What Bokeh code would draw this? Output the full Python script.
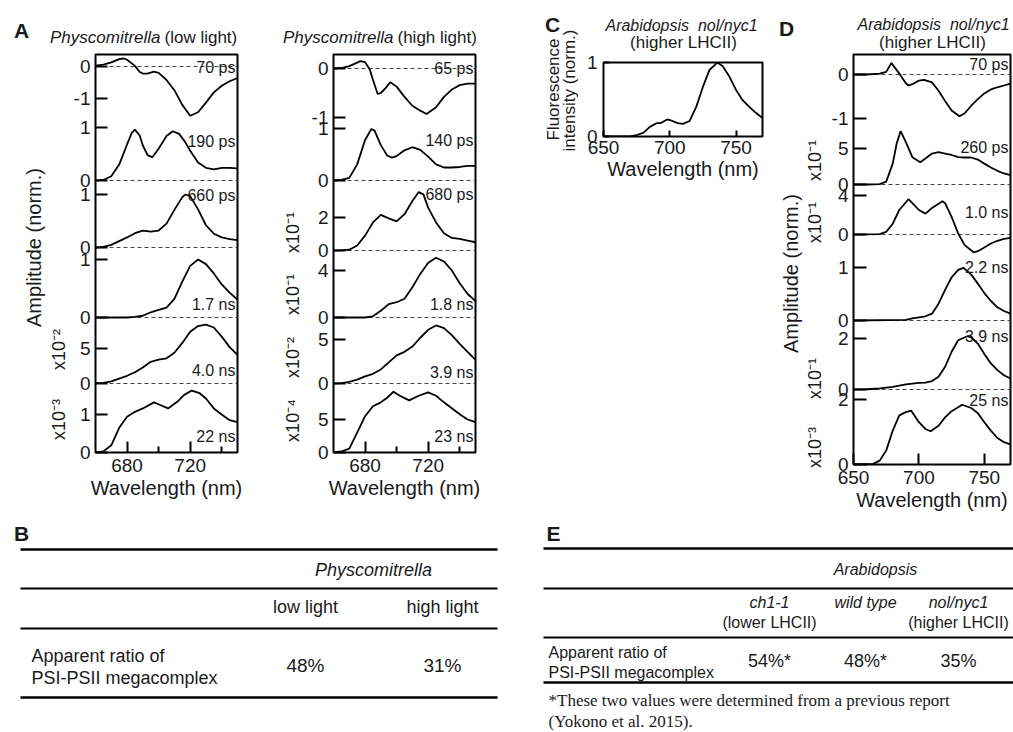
import math
from bokeh.plotting import figure
from bokeh.models import Range1d, LinearAxis, FixedTicker, Label, AllLabels
from bokeh.layouts import row, column
from bokeh.embed import file_html
from bokeh.resources import INLINE
from bokeh.core.properties import value

# ---------------------------------------------------------------- data
# Panel A - Physcomitrella (low light): decay-associated spectra
ll_70ps_wl = [660, 665, 670, 675, 678, 680, 685, 688, 690, 693, 697, 700, 705, 710, 715, 720, 725, 730, 735, 740, 745, 750]
ll_70ps = [0.03, 0.06, 0.13, 0.23, 0.25, 0.21, 0.02, -0.17, -0.22, -0.22, -0.16, -0.2, -0.42, -0.74, -1.2, -1.54, -1.43, -1.13, -0.81, -0.6, -0.46, -0.36]
ll_190ps_wl = [660, 665, 670, 675, 680, 683, 685, 688, 690, 693, 696, 700, 705, 709, 713, 717, 720, 725, 730, 735, 740, 745, 750]
ll_190ps = [0.0, 0.01, 0.08, 0.3, 0.68, 0.9, 0.96, 0.85, 0.66, 0.48, 0.44, 0.6, 0.84, 0.93, 0.88, 0.72, 0.56, 0.34, 0.24, 0.21, 0.24, 0.24, 0.23]
ll_660ps_wl = [660, 665, 670, 675, 680, 685, 690, 695, 700, 705, 710, 715, 717, 720, 725, 730, 735, 740, 745, 750]
ll_660ps = [0.0, 0.01, 0.05, 0.12, 0.19, 0.27, 0.32, 0.3, 0.32, 0.45, 0.71, 0.95, 1.0, 0.97, 0.72, 0.42, 0.26, 0.19, 0.16, 0.14]
ll_1p7ns_wl = [660, 670, 680, 685, 690, 695, 700, 705, 710, 715, 720, 725, 730, 735, 740, 745, 750]
ll_1p7ns = [0.0, 0.0, 0.0, 0.01, 0.03, 0.09, 0.13, 0.17, 0.32, 0.62, 0.89, 1.0, 0.92, 0.76, 0.57, 0.43, 0.31]
ll_4p0ns_wl = [660, 665, 670, 675, 680, 685, 690, 695, 700, 705, 710, 715, 720, 725, 730, 735, 740, 745, 750]
ll_4p0ns = [0.05, 0.1, 0.3, 0.7, 1.1, 1.6, 2.3, 3.1, 3.4, 3.6, 4.4, 5.8, 7.4, 8.2, 8.4, 8.0, 6.7, 5.2, 4.1]
ll_22ns_wl = [660, 665, 670, 675, 680, 685, 690, 697, 701, 706, 712, 716, 721, 726, 730, 735, 740, 745, 750]
ll_22ns = [0.0, 0.03, 0.19, 0.65, 0.94, 1.07, 1.16, 1.32, 1.25, 1.16, 1.34, 1.51, 1.63, 1.56, 1.42, 1.16, 1.0, 0.85, 0.8]

# Panel A - Physcomitrella (high light)
hl_65ps_wl = [660, 665, 670, 675, 677, 680, 683, 685, 688, 690, 693, 696, 700, 705, 710, 715, 719, 725, 730, 735, 740, 745, 750]
hl_65ps = [0.0, 0.01, 0.05, 0.12, 0.15, 0.13, -0.02, -0.23, -0.52, -0.5, -0.4, -0.28, -0.37, -0.58, -0.76, -0.86, -0.93, -0.79, -0.58, -0.43, -0.34, -0.31, -0.31]
hl_140ps_wl = [660, 665, 670, 675, 680, 684, 686, 690, 694, 697, 700, 705, 710, 715, 720, 725, 730, 735, 740, 745, 750]
hl_140ps = [0.0, 0.01, 0.05, 0.31, 0.78, 0.99, 0.96, 0.68, 0.48, 0.44, 0.47, 0.58, 0.64, 0.59, 0.46, 0.31, 0.25, 0.25, 0.26, 0.28, 0.28]
hl_680ps_wl = [660, 665, 670, 675, 680, 685, 690, 695, 700, 705, 710, 714, 717, 720, 725, 730, 735, 740, 745, 750]
hl_680ps = [0.0, 0.01, 0.05, 0.3, 0.9, 1.7, 2.16, 1.95, 1.76, 2.2, 3.0, 3.54, 3.4, 2.6, 1.7, 1.04, 0.76, 0.7, 0.6, 0.5]
hl_1p8ns_wl = [660, 680, 685, 690, 695, 700, 705, 710, 715, 720, 725, 730, 735, 740, 745, 750]
hl_1p8ns = [0.0, 0.0, 0.1, 0.57, 1.14, 1.3, 1.6, 2.57, 3.71, 4.66, 5.09, 4.77, 4.0, 2.91, 2.0, 1.4]
hl_3p9ns_wl = [660, 665, 670, 675, 680, 685, 690, 695, 700, 705, 710, 715, 720, 725, 730, 735, 740, 745, 750]
hl_3p9ns = [0.0, 0.04, 0.18, 0.45, 0.8, 1.1, 1.6, 2.4, 3.2, 3.6, 4.2, 5.2, 6.1, 6.6, 6.3, 5.5, 4.5, 3.6, 2.7]
hl_23ns_wl = [660, 665, 670, 675, 680, 685, 690, 694, 698, 702, 708, 714, 720, 725, 730, 735, 740, 745, 750]
hl_23ns = [0.0, 0.15, 0.6, 3.0, 5.5, 7.0, 7.6, 8.3, 9.2, 8.6, 7.9, 8.6, 9.1, 8.6, 7.6, 6.7, 5.8, 5.0, 4.6]

# Panel C - Arabidopsis nol/nyc1 steady-state fluorescence
c_wl = [650, 670, 675, 680, 685, 690, 693, 698, 702, 706, 710, 715, 720, 725, 730, 736, 740, 745, 750, 755, 760, 765, 770]
c_int = [0.0, 0.0, 0.02, 0.05, 0.13, 0.18, 0.18, 0.23, 0.21, 0.18, 0.17, 0.21, 0.4, 0.67, 0.9, 1.0, 0.95, 0.81, 0.63, 0.49, 0.4, 0.32, 0.25]

# Panel D - Arabidopsis nol/nyc1 decay-associated spectra
d_70ps_wl = [650, 660, 670, 675, 679, 685, 690, 692, 695, 700, 704, 710, 715, 720, 725, 731, 735, 740, 745, 750, 755, 760, 765, 770]
d_70ps = [0.0, 0.0, 0.02, 0.06, 0.26, 0.02, -0.2, -0.25, -0.22, -0.14, -0.12, -0.18, -0.37, -0.6, -0.82, -0.95, -0.88, -0.71, -0.56, -0.43, -0.34, -0.29, -0.25, -0.21]
d_260ps_wl = [650, 660, 670, 675, 680, 683, 686, 690, 695, 701, 705, 710, 715, 720, 725, 730, 735, 740, 745, 750, 755, 760, 765, 770]
d_260ps = [0.0, 0.0, 0.05, 0.4, 2.9, 5.7, 7.4, 5.9, 3.8, 3.1, 3.6, 4.3, 4.5, 4.3, 4.1, 3.8, 3.75, 3.75, 3.47, 2.9, 2.36, 1.9, 1.53, 1.3]
d_1p0ns_wl = [650, 670, 675, 680, 685, 692, 695, 700, 705, 710, 718, 720, 725, 730, 735, 742, 745, 750, 755, 760, 765, 770]
d_1p0ns = [0.0, 0.03, 0.27, 1.1, 2.5, 3.6, 3.2, 2.5, 2.13, 2.7, 3.4, 3.2, 1.8, 0.1, -1.08, -1.83, -1.7, -1.32, -0.92, -0.64, -0.44, -0.34]
d_2p2ns_wl = [650, 690, 695, 700, 705, 710, 715, 720, 725, 730, 734, 740, 745, 750, 755, 760, 765, 770]
d_2p2ns = [0.0, 0.01, 0.04, 0.06, 0.08, 0.13, 0.32, 0.58, 0.82, 0.96, 1.0, 0.87, 0.7, 0.52, 0.37, 0.25, 0.18, 0.13]
d_3p9ns_wl = [650, 660, 670, 680, 690, 700, 705, 710, 715, 720, 725, 730, 737, 740, 745, 750, 755, 760, 765, 770]
d_3p9ns = [0.0, 0.01, 0.04, 0.1, 0.2, 0.26, 0.27, 0.33, 0.5, 0.89, 1.48, 1.93, 2.09, 2.04, 1.8, 1.39, 1.02, 0.76, 0.56, 0.43]
d_25ns_wl = [650, 665, 670, 675, 680, 685, 690, 694, 700, 705, 709, 715, 720, 725, 730, 733, 740, 745, 750, 755, 760, 765, 770]
d_25ns = [0.0, 0.02, 0.12, 0.43, 1.05, 1.52, 1.62, 1.67, 1.31, 1.1, 1.03, 1.2, 1.46, 1.65, 1.77, 1.85, 1.75, 1.59, 1.31, 1.05, 0.82, 0.69, 0.62]

# Tables B and E
row_label = ["Apparent ratio of", "PSI-PSII megacomplex"]
b_species = "Physcomitrella"
b_conditions = ["low light", "high light"]
b_ratio = ["48%", "31%"]
e_species = "Arabidopsis"
e_lines = ["ch1-1", "wild type", "nol/nyc1"]
e_lhcii = ["(lower LHCII)", "", "(higher LHCII)"]
e_ratio = ["54%*", "48%*", "35%"]
e_note = ["*These two values were determined from a previous report", "(Yokono et al. 2015)."]

# ---------------------------------------------------------------- style
SANS = "Liberation Sans"
SERIF = "Liberation Serif"
INK = "#1a1a1a"
SUP = {1: "\u00b9", 2: "\u00b2", 3: "\u00b3", 4: "\u2074"}
ARA_TITLE = "Arabidopsis\u00a0\u00a0nol/nyc1"


def base_fig(fig_l, fig_t, fig_w, fig_h, fr_l, fr_t, fr_r, fr_b):
    """Figure whose default ranges are page pixels of its frame."""
    p = figure(width=fig_w, height=fig_h, title=None, toolbar_location=None,
               output_backend="svg",
               x_range=Range1d(fr_l, fr_r), y_range=Range1d(fr_b, fr_t),
               x_axis_type=None, y_axis_type=None,
               min_border_left=fr_l - fig_l, min_border_right=fig_l + fig_w - fr_r,
               min_border_top=fr_t - fig_t, min_border_bottom=fig_t + fig_h - fr_b)
    p.outline_line_color = None
    p.background_fill_color = "white"
    p.border_fill_color = "white"
    return p


def text_fig(l, t, w, h):
    return base_fig(l, t, w, h, l, t, l + w, t + h)


def label(p, x, y, text, size="19px", style="normal", align="center",
          baseline="middle", angle=0.0, font=SANS):
    p.add_layout(Label(x=x, y=y, text=text, text_font=font, text_font_size=size,
                       text_font_style=style, text_align=align,
                       text_baseline=baseline, angle=angle, text_color=INK))


def box(p):
    return column(p)


def stack_fig(geom, nm_range, xticks, xminor, panels, ytick_len, time_x, side, mult_x):
    fig_l, fig_t, fig_w, fig_h, fr_l, fr_t, fr_r, fr_b = geom
    p = base_fig(*geom)
    p.outline_line_color = "black"
    p.outline_line_width = 2
    p.extra_x_ranges = {"nm": Range1d(*nm_range)}
    yr = {}
    ticks, over = [], {}
    for i, sp in enumerate(panels):
        z, s = sp["zero"], sp["scale"]
        yr["s%d" % i] = Range1d((z - fr_b) / s, (z - fr_t) / s)
        for t in sp["ticks"]:
            pos = int(round(z - t * s))
            ticks.append(pos)
            over[pos] = str(t)
    p.extra_y_ranges = yr
    for i, sp in enumerate(panels):
        name = "s%d" % i
        if sp.get("dash", True):
            p.hspan(y=[0], y_range_name=name, line_color="#444444",
                    line_width=1, line_dash="4 3")
        p.line(sp["x"], sp["y"], x_range_name="nm", y_range_name=name,
               line_color="black", line_width=1.8)
        label(p, time_x, sp["label_y"], sp["label"], size="16px", align="right")
        if sp.get("exp"):
            label(side, mult_x, sp["mult_y"], "x10\u207b" + SUP[sp["exp"]],
                  size="18px", angle=math.pi / 2)
    ax = LinearAxis(ticker=FixedTicker(ticks=ticks, minor_ticks=[]),
                    major_label_overrides=over, major_label_policy=AllLabels(),
                    axis_line_color=None, major_tick_in=ytick_len, major_tick_out=0,
                    major_tick_line_width=2, minor_tick_line_color=None,
                    major_label_text_font=SANS, major_label_text_font_size="19px",
                    major_label_standoff=5, major_label_text_color=INK)
    p.add_layout(ax, "left")
    bx = LinearAxis(x_range_name="nm",
                    ticker=FixedTicker(ticks=xticks, minor_ticks=xminor),
                    axis_line_color=None, major_tick_in=11, major_tick_out=0,
                    minor_tick_in=6, minor_tick_out=0, major_tick_line_width=2,
                    minor_tick_line_width=2, major_label_text_font=SANS,
                    major_label_text_font_size="19px", major_label_standoff=6,
                    major_label_text_color=INK, axis_label="Wavelength (nm)",
                    axis_label_text_font=SANS, axis_label_text_font_size="20px",
                    axis_label_text_font_style="normal", axis_label_standoff=2,
                    axis_label_text_color=INK)
    p.add_layout(bx, "below")
    return p


# ---------------------------------------------------------------- panel A (low light)
a1_panels = [
    dict(x=ll_70ps_wl, y=ll_70ps, zero=66, scale=32, ticks=[0, -1], label="70 ps", label_y=67),
    dict(x=ll_190ps_wl, y=ll_190ps, zero=180, scale=53, ticks=[0, 1], label="190 ps", label_y=141),
    dict(x=ll_660ps_wl, y=ll_660ps, zero=247, scale=53, ticks=[0, 1], label="660 ps", label_y=195),
    dict(x=ll_1p7ns_wl, y=ll_1p7ns, zero=317, scale=58, ticks=[0, 1], label="1.7 ns", label_y=304),
    dict(x=ll_4p0ns_wl, y=ll_4p0ns, zero=383, scale=7, ticks=[0, 5], label="4.0 ns", label_y=370,
         exp=2, mult_y=349),
    dict(x=ll_22ns_wl, y=ll_22ns, zero=452, scale=38, ticks=[0, 1], label="22 ns", label_y=436,
         exp=3, mult_y=419, dash=False),
]
tA1 = text_fig(0, 0, 250, 52)
label(tA1, 21, 30, "A", size="21px", style="bold")
label(tA1, 160, 37, "Physcomitrella", size="17px", style="italic", align="right")
label(tA1, 164, 37, "(low light)", size="17px", align="left")
sA1 = text_fig(0, 52, 70, 468)
label(sA1, 33, 247, "Amplitude (norm.)", size="20px", angle=math.pi / 2)
pA1 = stack_fig((70, 52, 180, 468, 94, 54, 237, 452), (660, 750), [680, 720], [700, 740],
                a1_panels, 12, 235, sA1, 58)
colA1 = column(box(tA1), row(box(sA1), box(pA1)))

# ---------------------------------------------------------------- panel A (high light)
a2_panels = [
    dict(x=hl_65ps_wl, y=hl_65ps, zero=68, scale=49, ticks=[0, -1], label="65 ps", label_y=68),
    dict(x=hl_140ps_wl, y=hl_140ps, zero=180, scale=52, ticks=[0, 1], label="140 ps", label_y=140),
    dict(x=hl_680ps_wl, y=hl_680ps, zero=250, scale=16.5, ticks=[0, 2], label="680 ps", label_y=194,
         exp=1, mult_y=232),
    dict(x=hl_1p8ns_wl, y=hl_1p8ns, zero=317, scale=11.75, ticks=[0, 4], label="1.8 ns", label_y=304,
         exp=1, mult_y=294),
    dict(x=hl_3p9ns_wl, y=hl_3p9ns, zero=383, scale=8.8, ticks=[0, 5], label="3.9 ns", label_y=372,
         exp=2, mult_y=357),
    dict(x=hl_23ns_wl, y=hl_23ns, zero=452, scale=6.6, ticks=[0, 5], label="23 ns", label_y=436,
         exp=4, mult_y=420, dash=False),
]
tA2 = text_fig(250, 0, 240, 52)
label(tA2, 393, 37, "Physcomitrella", size="17px", style="italic", align="right")
label(tA2, 397, 37, "(high light)", size="17px", align="left")
sA2 = text_fig(250, 52, 55, 468)
pA2 = stack_fig((305, 52, 185, 468, 333, 54, 475, 452), (660, 750), [680, 720], [700, 740],
                a2_panels, 12, 473, sA2, 292)
colA2 = column(box(tA2), row(box(sA2), box(pA2)))

# ---------------------------------------------------------------- panel C
sC = text_fig(490, 0, 88, 520)
label(sC, 552, 24, "C", size="21px", style="bold")
label(sC, 553, 89, "Fluorescence", size="17px", angle=math.pi / 2)
label(sC, 569, 90, "intensity (norm.)", size="17px", angle=math.pi / 2)
tC = text_fig(578, 0, 197, 52)
label(tC, 681, 25, ARA_TITLE, size="16px", style="italic")
label(tC, 683, 42, "(higher LHCII)", size="17px")
pC = base_fig(578, 52, 197, 468, 603, 62, 762, 136)
pC.outline_line_color = "black"
pC.outline_line_width = 2
pC.extra_x_ranges = {"nm": Range1d(650, 770)}
pC.extra_y_ranges = {"int": Range1d(0, 1.0)}
pC.line(c_wl, c_int, x_range_name="nm", y_range_name="int", line_color="black", line_width=1.8)
pC.add_layout(LinearAxis(y_range_name="int", ticker=FixedTicker(ticks=[0, 1], minor_ticks=[]),
                         axis_line_color=None, major_tick_in=6, major_tick_out=0,
                         major_tick_line_width=2, minor_tick_line_color=None,
                         major_label_text_font=SANS, major_label_text_font_size="19px",
                         major_label_standoff=6, major_label_text_color=INK), "left")
pC.add_layout(LinearAxis(x_range_name="nm", ticker=FixedTicker(ticks=[650, 700, 750], minor_ticks=[]),
                         axis_line_color=None, major_tick_in=6, major_tick_out=0,
                         major_tick_line_width=2, minor_tick_line_color=None,
                         major_label_text_font=SANS, major_label_text_font_size="19px",
                         major_label_standoff=4, major_label_text_color=INK,
                         axis_label="Wavelength (nm)", axis_label_text_font=SANS,
                         axis_label_text_font_size="20px", axis_label_text_font_style="normal",
                         axis_label_standoff=1, axis_label_text_color=INK), "below")
colC = row(box(sC), column(box(tC), box(pC)))

# ---------------------------------------------------------------- panel D
d_panels = [
    dict(x=d_70ps_wl, y=d_70ps, zero=74, scale=44, ticks=[0, -1], label="70 ps", label_y=64),
    dict(x=d_260ps_wl, y=d_260ps, zero=184, scale=7.2, ticks=[0, 5], label="260 ps", label_y=147,
         exp=1, mult_y=160),
    dict(x=d_1p0ns_wl, y=d_1p0ns, zero=234, scale=9.8, ticks=[0, 4], label="1.0 ns", label_y=212,
         exp=1, mult_y=222),
    dict(x=d_2p2ns_wl, y=d_2p2ns, zero=320, scale=52.7, ticks=[0, 1], label="2.2 ns", label_y=267),
    dict(x=d_3p9ns_wl, y=d_3p9ns, zero=389, scale=25.5, ticks=[0, 2], label="3.9 ns", label_y=336,
         exp=1, mult_y=378),
    dict(x=d_25ns_wl, y=d_25ns, zero=464, scale=32.3, ticks=[0, 2], label="25 ns", label_y=400,
         exp=3, mult_y=447, dash=False),
]
tD = text_fig(775, 0, 238, 52)
label(tD, 786, 28, "D", size="21px", style="bold")
label(tD, 933, 24, ARA_TITLE, size="16px", style="italic")
label(tD, 932, 42, "(higher LHCII)", size="17px")
sD = text_fig(775, 52, 52, 468)
label(sD, 790, 273, "Amplitude (norm.)", size="20px", angle=math.pi / 2)
pD = stack_fig((827, 52, 186, 468, 853, 54, 1010, 464), (650, 770), [650, 700, 750], [],
               d_panels, 13, 1008, sD, 814)
colD = column(box(tD), row(box(sD), box(pD)))

# ---------------------------------------------------------------- table B
pB = base_fig(0, 520, 505, 212, 0, 520, 505, 732)
pB.segment(x0=[20, 20, 20, 20], y0=[549, 588, 628, 697], x1=[497, 497, 497, 497],
           y1=[549, 588, 628, 697], line_color="black", line_width=[2.5, 2, 2, 2.5])
b_cols = [305, 442]
pB.text(x=[373], y=[569], text=[b_species], text_font=value(SANS), text_font_size="18px",
        text_font_style="italic", text_align="center", text_baseline="middle", text_color=INK)
pB.text(x=b_cols, y=[606, 606], text=b_conditions, text_font=value(SANS), text_font_size="18px",
        text_align="center", text_baseline="middle", text_color=INK)
pB.text(x=[31, 31], y=[655, 677], text=row_label, text_font=value(SANS), text_font_size="18px",
        text_align="left", text_baseline="middle", text_color=INK)
pB.text(x=b_cols, y=[665, 665], text=b_ratio, text_font=value(SANS), text_font_size="19px",
        text_align="center", text_baseline="middle", text_color=INK)
label(pB, 21, 533, "B", size="21px", style="bold")

# ---------------------------------------------------------------- table E
pE = base_fig(505, 520, 508, 212, 505, 520, 1013, 732)
pE.segment(x0=[543, 543, 543, 543], y0=[548, 588, 637, 682], x1=[1013, 1013, 1013, 1013],
           y1=[548, 588, 637, 682], line_color="black", line_width=[2.5, 2, 2, 2.5])
e_cols = [769, 865, 958]
pE.text(x=[875], y=[569], text=[e_species], text_font=value(SANS), text_font_size="16px",
        text_font_style="italic", text_align="center", text_baseline="middle", text_color=INK)
pE.text(x=e_cols, y=[602, 602, 602], text=e_lines, text_font=value(SANS), text_font_size="16px",
        text_font_style="italic", text_align="center", text_baseline="middle", text_color=INK)
pE.text(x=e_cols, y=[622, 622, 622], text=e_lhcii, text_font=value(SANS), text_font_size="16px",
        text_align="center", text_baseline="middle", text_color=INK)
pE.text(x=[548, 548], y=[652, 672], text=row_label, text_font=value(SANS), text_font_size="16px",
        text_align="left", text_baseline="middle", text_color=INK)
pE.text(x=e_cols, y=[660, 660, 660], text=e_ratio, text_font=value(SANS), text_font_size="18px",
        text_align="center", text_baseline="middle", text_color=INK)
pE.text(x=[548, 548], y=[700, 721], text=e_note, text_font=value(SERIF), text_font_size="17px",
        text_align="left", text_baseline="middle", text_color=INK)
label(pE, 553, 533, "E", size="21px", style="bold")

layout = column(row(column(colA1), column(colA2), column(colC), column(colD)),
                row(box(pB), box(pE)))
open("out.html", "w").write(file_html(layout, INLINE))
